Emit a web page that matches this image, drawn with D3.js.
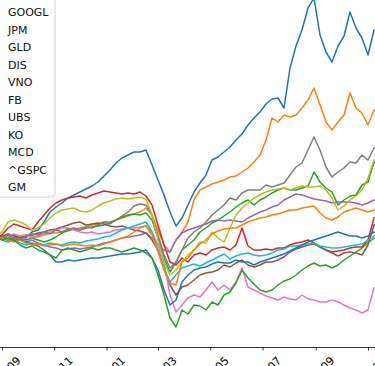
<!DOCTYPE html>
<html><head><meta charset="utf-8">
<script src="https://cdn.jsdelivr.net/npm/d3@7"></script>
<style>html,body{margin:0;padding:0;background:#fff;overflow:hidden}svg{display:block}</style>
</head><body>
<script>
// Indexed closing prices (start = 100), weekly samples
const startDate = "2019-08-25";
const tickLabels = ["2019-07","2019-09","2019-11","2020-01","2020-03","2020-05","2020-07","2020-09","2020-11"];
const names = ["AAPL","MSFT","GOOGL","JPM","GLD","DIS","VNO","FB","UBS","KO","MCD","^GSPC","GM"];
const AAPL = [100,99.5,100.5,98.5,100.5,99.5,102.5,103.5,107.5,112.5,115,117,119.5,121,122.5,124,125.5,127.5,130.5,133.5,137,139.5,141,142.5,142.5,143.5,136,128.5,121,112.5,105.5,109.5,116,122.5,127,131,138.5,140,142.5,145,148.5,151.5,156,159.5,162.5,166.5,169,169.5,164.5,184.5,195.5,203.5,214.5,219.5,201,192.5,187.5,195.5,200.5,212.5,204.5,199.5,191,203.5,203.5];
const MSFT = [100,100,100.5,99.5,100.5,101,100.5,100,101,102,102,102.5,103,104,104.5,105,106,106.5,107.5,107.5,108.5,109.5,110.5,111.5,112.5,114.5,111,103.5,96,92.5,98.5,102.5,107.5,118.5,123.5,125,126.5,127.5,128.5,130,130.5,132.5,134.5,137.5,141,148.5,159.5,157.5,161,160,161,164.5,168.5,174.5,166,157.5,153.5,157.5,161,172,164.5,162,156,163.5,163.5];
const GOOGL = [100,98.5,100.5,101,99.5,98.5,99.5,98.5,97.5,98.5,100,102,103.5,104,103.5,104.5,105,105.5,106,107,108.5,110,111,111.5,111,112,108.5,99.5,89.5,82.5,87.5,93.5,96,98.5,102.5,104.5,107,108.5,110.5,112.5,115,117,118.5,116,118.5,120,122,123.5,124.5,123.5,123.5,124.5,125.5,132.5,127.5,124.5,122.5,116,118.5,120.5,121,126,127.5,137.5,136];
const JPM = [100,101,104.5,106.5,105.5,104.5,103.5,107.5,111,114.5,117,118.5,119.5,120,120.5,119.5,121,122,123,122.5,122,121.5,122,121.5,122.5,120.5,116,106,96,87.5,86,89.5,87.5,91,92,91,93.5,94.5,95,93.5,96,104.5,95.5,93.5,93.5,94,93.5,94.5,94.5,96,97,97.5,98.5,97,95,93.5,92.5,93,93.5,94.5,95,95,98.5,109.5,111];
const GLD = [100,99.5,98.5,99.5,98.5,97.5,98.5,97,96,95,94.5,93.5,94,94.5,94,94.5,95,96,97,97.5,98.5,99.5,100,100.5,101,102,99.5,96,93.5,92.5,98.5,102,103.5,104.5,105.5,106.5,108,108.5,108,108.5,108,107.5,109.5,111,112.5,113.5,115,116,118.5,120,121.5,121,120,119,118.5,118,117,117.5,117.5,117.5,117,116,117,118.5,118.5];
const DIS = [100,100.5,101.5,100.5,99.5,100.5,101,102,102.5,103.5,104,105,106,107,107.5,106,106.5,107,106.5,105.5,105,105.5,104.5,103.5,103,102,98.5,93.5,84.5,76,71,75,76,78.5,81,82,82.5,83.5,86,85,87,88.5,86,85,86,87.5,87.5,88.5,90,92.5,94,95,96,96.5,95,93.5,92,90.5,92,92.5,92,91,96,106,107.5];
const VNO = [100,99.5,100.5,101.5,100.5,101,99.5,100.5,101.5,102.5,103.5,104.5,104.5,103.5,102.5,102,102.5,101.5,102,102.5,103.5,104,104.5,104.5,105,105.5,102.5,96,87.5,71,62.5,66,69.5,71,70,73.5,77.5,73.5,76,73.5,77.5,84.5,75,73.5,72,70.5,69.5,68.5,70,69,68.5,71,69,68.5,67.5,67.5,68.5,67.5,66,64.5,63.5,62,63.5,74.5,76];
const FB = [100,99.5,101,99.5,98.5,100.5,101.5,101,102.5,101.5,103.5,102.5,104,104.5,103.5,105,104.5,106,107.5,106.5,108.5,110.5,112.5,115.5,116.5,116,111,101,91,84.5,87.5,93.5,99.5,102.5,104.5,107.5,111,113.5,116,119.5,118.5,122,123.5,123.5,123.5,126,125,126,127,131,135,137,143.5,150,143.5,135,130,132.5,134.5,137.5,137,141,138.5,144.5,143.5];
const UBS = [100,102.5,107.5,108.5,107.5,106,103.5,104.5,106.5,109.5,112,113.5,114,114.5,113,112.5,113.5,115.5,117,118,119,119.5,119,119.5,120,119,111,98.5,87.5,81,83.5,87.5,91,93.5,97.5,97,102.5,99.5,97.5,104.5,111,114.5,117,119.5,121,122.5,123.5,124,124.5,123.5,124.5,125.5,125,125,125.5,123.5,119.5,113.5,115.5,118.5,120.5,123.5,129.5,138.5,139.5];
const KO = [100,98.5,97.5,98.5,97,96,97,96.5,96,97,96.5,96,97,97.5,97,98,98.5,99,100,100.5,102,103.5,104.5,105.5,106.5,107.5,102.5,93.5,84.5,77.5,81,84.5,85.5,86.5,85.5,87,88.5,90,91.5,89,90.5,91.5,92,91,90.5,91,92,93.5,94,95.5,95.5,96,96.5,97,95.5,95,94.5,94.5,95,95.5,96,96.5,98.5,100.5,101];
const MCD = [100,99.5,98.5,98,98.5,97.5,96.5,95.5,93.5,91,87.5,87.5,88.5,88,88.5,89,89.5,89.5,90,90.5,91,91.5,91.5,92,92.5,93.5,89.5,83.5,73.5,66,68.5,77.5,81,83.5,84.5,85,86.5,87.5,87,87,88.5,87.5,87.5,86,87.5,88.5,89.5,90.5,91.5,93,94.5,96,97.5,98.5,99.5,100.5,101.5,102.5,101.5,100.5,100.5,99.5,100.5,102.5,103.5];
const GSPC = [100,99.5,98.5,97.5,98.5,97,96,96.5,95.5,96,96.5,95.5,96,96.5,96,95.5,96,95.5,96.5,97.5,98.5,99.5,100.5,102.5,104.5,105.5,101,92.5,83.5,77,76,87.5,89.5,93.5,96.5,98.5,101.5,103,104,104.5,104.5,106,107.5,108.5,109.5,110,111,111.5,112.5,113.5,113.5,114.5,115,115.5,112,109.5,108.5,110,112.5,113.5,114.5,113.5,112.5,113.5,113.5];
const GM = [100,98.5,99.5,98.5,96,94.5,95.5,93.5,92.5,91,89.5,93.5,94.5,93.5,92.5,93.5,94.5,93.5,94.5,94.5,93.5,92.5,93.5,94.5,93.5,92,89.5,81,71,59.5,55,63.5,61.5,66,65.5,63.5,67.5,66,71,72.5,77,83.5,79.5,76.5,73.5,72.5,73.5,76,78,79,81,83.5,85.5,87,85.5,86,84.5,86,88.5,90.5,92.5,94.5,97,99.5,99.5];
const seriesValues = [AAPL,MSFT,GOOGL,JPM,GLD,DIS,VNO,FB,UBS,KO,MCD,GSPC,GM];
const colors = ["#1f77b4","#ff7f0e","#2ca02c","#d62728","#9467bd","#8c564b","#e377c2","#7f7f7f","#bcbd22","#17becf","#1f77b4","#ff7f0e","#2ca02c"];

const W = 375, H = 366;
const parse = d3.utcParse("%Y-%m");
const t0 = d3.utcParse("%Y-%m-%d")(startDate);
const dates = AAPL.map((_, i) => d3.utcDay.offset(t0, 7 * i));

const base = d3.scaleUtc().domain([parse("2019-09"), parse("2020-11")]).range([2, 368]);
const x = d3.scaleUtc().domain([base.invert(-10), base.invert(W + 10)]).range([-10, W + 10]);
const y = d3.scaleLinear().domain([0, 218.5]).range([437, 0]);
const axisY = 347;

const svg = d3.select("body").append("svg").attr("width", W).attr("height", H)
  .style("font-family", "'DejaVu Sans', sans-serif");

const line = d3.line().x((d, i) => x(dates[i])).y(d => y(d));
svg.append("g").selectAll("path").data(seriesValues).join("path")
  .attr("d", d => line(d))
  .attr("fill", "none")
  .attr("stroke", (d, i) => colors[i])
  .attr("stroke-width", 1.5)
  .attr("stroke-linejoin", "round")
  .attr("stroke-linecap", "square");

// x axis
const xAxis = d3.axisBottom(x)
  .tickValues(tickLabels.map(parse))
  .tickFormat(d3.utcFormat("%Y-%m"))
  .tickSize(3.5).tickPadding(3.5).tickSizeOuter(0);
const gx = svg.append("g").attr("transform", `translate(0,${axisY})`).call(xAxis);
gx.select(".domain").attr("stroke", "#000").attr("stroke-width", 0.8);
gx.selectAll(".tick line").attr("stroke", "#000").attr("stroke-width", 0.8);
gx.selectAll(".tick text")
  .attr("fill", "#000").attr("font-size", 11).attr("font-family", "'DejaVu Sans', sans-serif")
  .attr("text-anchor", "middle").attr("y", 0).attr("dy", "0.35em")
  .each(function() {
    const w = this.getComputedTextLength();
    const h = 12.8;
    const bb = (w + h) * Math.SQRT1_2;
    d3.select(this).attr("transform", `translate(0,${7 + bb / 2}) rotate(-45)`);
  });

// legend (upper-left, partly outside the visible crop)
const lg = svg.append("g");
const rowH = 17.5, firstY = 12.5 - 2 * rowH;
lg.append("rect")
  .attr("x", -40).attr("y", firstY - 12).attr("width", 95).attr("height", 197 - (firstY - 12))
  .attr("rx", 3).attr("fill", "#fff").attr("fill-opacity", 0.8)
  .attr("stroke", "#d0d0d0").attr("stroke-width", 1);
const items = lg.selectAll("g.item").data(names).join("g")
  .attr("transform", (d, i) => `translate(0,${firstY + i * rowH})`);
items.append("line").attr("x1", -25).attr("x2", -3).attr("y1", 0).attr("y2", 0)
  .attr("stroke", (d, i) => colors[i]).attr("stroke-width", 1.5);
items.append("text").attr("x", 8).attr("y", 0).attr("dy", "0.36em")
  .attr("font-size", 11).attr("fill", "#111").text(d => d);
</script>
</body></html>
